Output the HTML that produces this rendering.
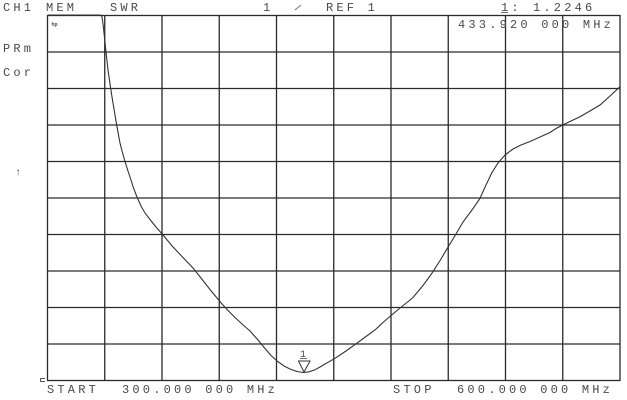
<!DOCTYPE html>
<html><head><meta charset="utf-8"><style>
html,body{margin:0;padding:0;background:#fff;}
svg{display:block;}
text{font-family:"Liberation Mono",monospace;font-size:12px;fill:#4a4a4a;letter-spacing:3.2px;}
</style></head><body>
<svg width="627" height="400" viewBox="0 0 627 400" xmlns="http://www.w3.org/2000/svg">
<rect width="627" height="400" fill="#fff"/>
<g stroke="#2a2a2a" stroke-width="1.3" fill="none">
<rect x="47.5" y="15.5" width="572.5" height="365"/>
<path d="M104.75 15.5V380.5M162 15.5V380.5M219.25 15.5V380.5M276.5 15.5V380.5M333.75 15.5V380.5M391 15.5V380.5M448.25 15.5V380.5M505.5 15.5V380.5M562.75 15.5V380.5"/>
<path d="M47.5 52H620M47.5 88.5H620M47.5 125H620M47.5 161.5H620M47.5 198H620M47.5 234.5H620M47.5 271H620M47.5 307.5H620M47.5 344H620"/>
</g>
<polyline fill="none" stroke="#333" stroke-width="1.1" points="48,15 101,15 102,17 103,24 104,33 105,42 106,52 107,61 108,70 109.3,79 110.7,88.5 112,97 113.5,106 115,115 116.7,125 118.3,134 120,143 122.3,152 125,161.5 127.5,169.5 130,177 133.5,188 137,197 141,206 145,213 150,219.5 156,227 163,235 168,241 173,247 183,257.5 193,268 201,278 210,289.5 220.7,302.5 228,310.5 235,317.5 242,324 250,331 258,340 265,348.5 271,355.5 277.7,361.5 284,366 290,369 297,371.5 303.5,372.5 309,371.8 315,369.8 320,367 325,364 330,361.2 335,358.3 346,351 356.7,343.3 366,336.5 375,330 383,322.5 391.7,315 400,308 407,302.5 413,297.5 423,285.5 433,271.7 441,259 448.3,246.7 456,234 463,222 472,210 480,198.3 486,185 491.7,173 498,163 505,155 513,149 521,145 530,141.5 540,137 550,132.5 556,128.5 562.7,125 571,121 580,116.7 590,111 600,105 610,96 620,86.7"/>
<!-- marker -->
<polygon points="298.5,361 310,361 304,372" fill="none" stroke="#333" stroke-width="1"/>
<text x="300" y="357" style="font-size:10px;letter-spacing:0">1</text>
<line x1="300" y1="358.5" x2="307" y2="358.5" stroke="#444" stroke-width="0.8"/>
<!-- header -->
<text x="3" y="11">CH1</text>
<text x="46" y="11">MEM</text>
<text x="110" y="11">SWR</text>
<text x="263" y="11">1</text>
<line x1="295" y1="10" x2="301" y2="5" stroke="#777" stroke-width="1"/>
<text x="326" y="11">REF 1</text>
<text x="501" y="11">1:</text>
<line x1="501" y1="12.5" x2="508" y2="12.5" stroke="#444" stroke-width="0.8"/>
<text x="533" y="11">1.2246</text>
<text x="458" y="28">433.920 000 MHz</text>
<text x="3" y="52">PRm</text>
<text x="3" y="76">Cor</text>
<text x="15" y="175" style="font-size:10px;letter-spacing:0">↑</text>
<text x="51.5" y="26" style="font-size:5px;letter-spacing:0;font-weight:bold">hp</text>
<path d="M45 378.5H40.5V381.5H45" fill="none" stroke="#555" stroke-width="1"/>
<text x="47" y="393">START</text>
<text x="122" y="393">300.000 000 MHz</text>
<text x="393" y="393">STOP</text>
<text x="457" y="393">600.000 000 MHz</text>
</svg>
</body></html>
